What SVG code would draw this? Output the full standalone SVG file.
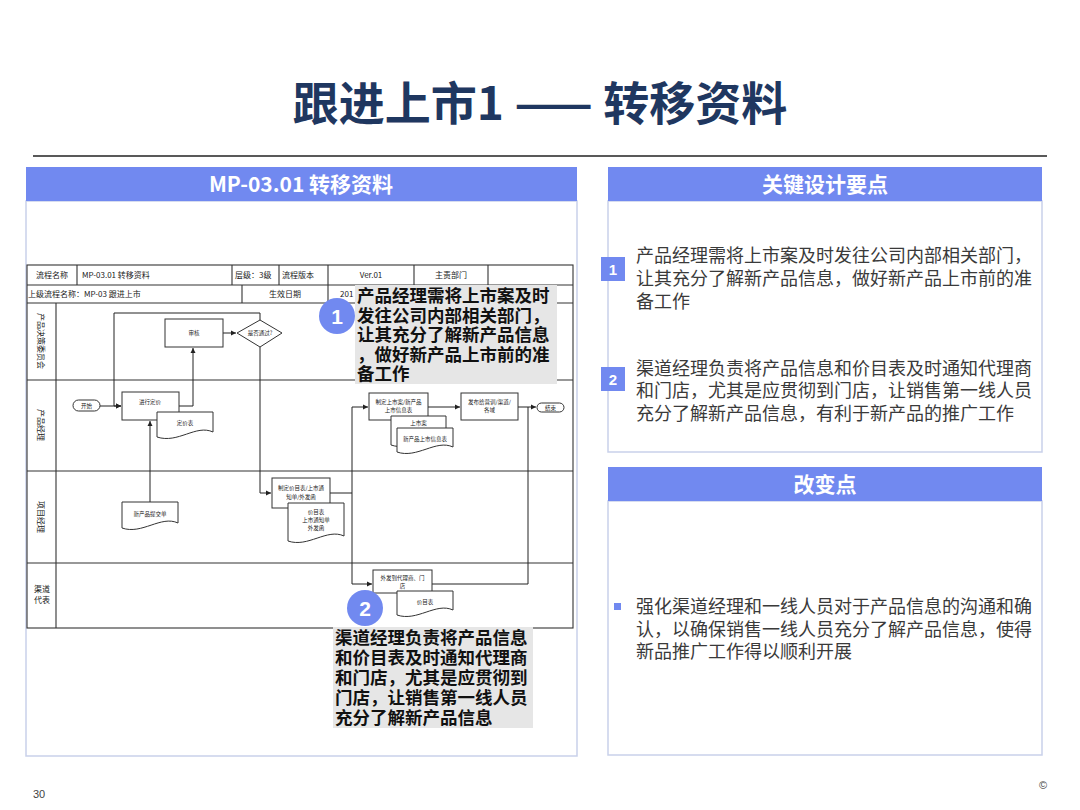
<svg xmlns="http://www.w3.org/2000/svg" width="1080" height="810" viewBox="0 0 1080 810">
<style>
.cjk{font-family:"Noto Sans CJK SC","Liberation Sans",sans-serif}
.hdr{fill:#7189F0}
.hdrt{font-family:"Noto Sans CJK SC",sans-serif;font-size:21px;font-weight:bold;fill:#fff;text-anchor:middle}
.panel{fill:#fff;stroke:#c9d1ea;stroke-width:1.5}
.body{font-family:"Noto Sans CJK SC",sans-serif;font-size:18px;fill:#3a3a3a}
.num{fill:#7189F0}
.numt{font-family:"Liberation Sans",sans-serif;font-size:15px;font-weight:bold;fill:#fff;text-anchor:middle}
.grid{stroke:#333;stroke-width:1.1;fill:none}
.tt{font-family:"Noto Sans CJK SC",sans-serif;font-size:8px;fill:#222}
.sh{fill:#fff;stroke:#333;stroke-width:1}
.st{font-family:"Noto Sans CJK SC",sans-serif;font-size:5.5px;fill:#222;text-anchor:middle}
.conn path{stroke:#222;stroke-width:1;fill:none}
.co{fill:#e6e6e6}
.cot{font-family:"Noto Sans CJK SC",sans-serif;font-size:17.5px;font-weight:bold;fill:#111}
.circ{fill:#7189F0}
.circt{font-family:"Liberation Sans",sans-serif;font-size:21px;font-weight:bold;fill:#fff;text-anchor:middle}
</style>
<defs>
<marker id="ah" markerWidth="6" markerHeight="6" refX="5" refY="3" orient="auto" markerUnits="userSpaceOnUse">
<path d="M0,0.5 L5,3 L0,5.5 Z" fill="#222"/>
</marker>
</defs>
<rect width="1080" height="810" fill="#fff"/>

<g id="title">
<text x="540" y="120" text-anchor="middle" font-family="Noto Sans CJK SC, sans-serif" font-size="46" font-weight="bold" fill="#1f3760">跟进上市1 —— 转移资料</text>
<line x1="33" y1="156" x2="1047" y2="156" stroke="#222" stroke-width="1.5"/>
</g>

<g id="left-panel">
<rect class="panel" x="26" y="201" width="551" height="555"/>
<rect class="hdr" x="26" y="167" width="551" height="34"/>
<text class="hdrt" x="301" y="191.5">MP-03.01 转移资料</text>
</g>

<g id="flow-table">
<rect class="grid" x="27" y="265" width="546" height="363"/>
<path class="grid" d="M27,285 H573 M27,303 H573 M77,265 V285 M232,265 V285 M279,265 V285 M328,265 V303 M414,265 V285 M488,265 V285 M242,285 V303 M56,303 V628 M27,380 H573 M27,471 H573 M27,563 H573"/>
<text class="tt" x="52" y="278" text-anchor="middle">流程名称</text>
<text class="tt" x="82" y="278">MP-03.01 转移资料</text>
<text class="tt" x="235" y="278">层级：3级</text>
<text class="tt" x="282" y="278">流程版本</text>
<text class="tt" x="371" y="278" text-anchor="middle">Ver.01</text>
<text class="tt" x="451" y="278" text-anchor="middle">主责部门</text>
<text class="tt" x="28" y="297">上级流程名称：MP-03 跟进上市</text>
<text class="tt" x="285" y="297" text-anchor="middle">生效日期</text>
<text class="tt" x="340" y="297">201</text>
<text class="tt" font-size="7" transform="translate(38,341) rotate(90)" text-anchor="middle">产品决策委员会</text>
<text class="tt" font-size="7" transform="translate(38,425) rotate(90)" text-anchor="middle">产品经理</text>
<text class="tt" font-size="7" transform="translate(38,517) rotate(90)" text-anchor="middle">项目经理</text>
<text class="tt" font-size="7" x="42" y="592" text-anchor="middle">渠道</text>
<text class="tt" font-size="7" x="42" y="603" text-anchor="middle">代表</text>
</g>

<g id="connectors" class="conn">
<path d="M100,406 H121" marker-end="url(#ah)"/>
<path d="M260,320 V313 H114 V406 H121" marker-end="url(#ah)"/>
<path d="M179,406 H193 V348" marker-end="url(#ah)"/>
<path d="M150,502 V421" marker-end="url(#ah)"/>
<path d="M223,333 H236" marker-end="url(#ah)"/>
<path d="M260,347 V493 H271" marker-end="url(#ah)"/>
<path d="M330,493 H352 V407 H368" marker-end="url(#ah)"/>
<path d="M352,493 V584 H372" marker-end="url(#ah)"/>
<path d="M428,407 H460" marker-end="url(#ah)"/>
<path d="M518,407 H536" marker-end="url(#ah)"/>
<path d="M432,584 H528 V407"/>
</g>

<g id="n-start"><rect class="sh" x="73" y="400" width="27" height="11" rx="5.5"/><text class="st" x="86.5" y="407.5">开始</text></g>
<g id="n-pricing"><rect class="sh" x="122" y="392" width="57" height="28"/><text class="st" x="150" y="404">进行定价</text></g>
<g id="n-pricesheet"><path class="sh" d="M157,412 H213 V432 C196,424 178,444 157,437 Z"/><text class="st" x="185" y="425">定价表</text></g>
<g id="n-review"><rect class="sh" x="165" y="319" width="58" height="28"/><text class="st" x="194" y="335">审核</text></g>
<g id="n-decision"><path class="sh" d="M260,320 L282,333 L260,347 L237,333 Z"/><text class="st" x="260" y="335">是否通过?</text></g>
<g id="n-submit"><path class="sh" d="M122,502 H178 V523 C161,515 142,535 122,528 Z"/><text class="st" x="150" y="516">新产品提交单</text></g>
<g id="n-pricelist-task"><rect class="sh" x="272" y="478" width="58" height="30"/><text class="st" x="301" y="490">制定价目表/上市通</text><text class="st" x="301" y="499">知单/外发函</text></g>
<g id="n-pricelist-doc"><path class="sh" d="M288,503 H344 V536 C327,528 308,548 288,541 Z"/><text class="st" x="316" y="514">价目表</text><text class="st" x="316" y="522">上市通知单</text><text class="st" x="316" y="530">外发函</text></g>
<g id="n-launchplan"><rect class="sh" x="369" y="393" width="59" height="27"/><text class="st" x="398.5" y="404">制定上市案/新产品</text><text class="st" x="398.5" y="412">上市信息表</text></g>
<g id="n-launchdoc"><path class="sh" d="M391,416 H446 V440 C429,432 411,452 391,445 Z"/><text class="st" x="418.5" y="425">上市案</text></g>
<g id="n-infosheet"><path class="sh" d="M397,428 H453 V447 C436,439 417,459 397,452 Z"/><text class="st" x="425" y="441">新产品上市信息表</text></g>
<g id="n-publish"><rect class="sh" x="461" y="393" width="57" height="27"/><text class="st" x="489.5" y="404">发布给营训/渠道/</text><text class="st" x="489.5" y="412">各域</text></g>
<g id="n-end"><rect class="sh" x="537" y="403" width="27" height="9" rx="4.5"/><text class="st" x="550.5" y="409.5">结束</text></g>
<g id="n-dispatch"><rect class="sh" x="373" y="570" width="59" height="23"/><text class="st" x="402.5" y="580">外发到代理商、门</text><text class="st" x="402.5" y="588">店</text></g>
<g id="n-pricelist2"><path class="sh" d="M397,591 H453 V610 C436,602 417,622 397,615 Z"/><text class="st" x="425" y="604">价目表</text></g>

<g id="callout-1">
<rect class="co" x="355" y="285" width="202" height="99"/>
<circle class="circ" cx="337" cy="316" r="18"/>
<text class="circt" x="337" y="324">1</text>
<text class="cot" x="357" y="302">产品经理需将上市案及时</text>
<text class="cot" x="357" y="322">发往公司内部相关部门，</text>
<text class="cot" x="357" y="341">让其充分了解新产品信息</text>
<text class="cot" x="357" y="361">，做好新产品上市前的准</text>
<text class="cot" x="357" y="380">备工作</text>
</g>

<g id="callout-2">
<rect class="co" x="333" y="627" width="200" height="101"/>
<circle class="circ" cx="365" cy="608" r="18"/>
<text class="circt" x="365" y="616">2</text>
<text class="cot" x="335" y="644">渠道经理负责将产品信息</text>
<text class="cot" x="335" y="664">和价目表及时通知代理商</text>
<text class="cot" x="335" y="684">和门店，尤其是应贯彻到</text>
<text class="cot" x="335" y="704">门店，让销售第一线人员</text>
<text class="cot" x="335" y="724">充分了解新产品信息</text>
</g>

<g id="key-points">
<rect class="panel" x="608" y="201" width="434" height="251"/>
<rect class="hdr" x="608" y="167" width="434" height="34"/>
<text class="hdrt" x="825" y="191.5">关键设计要点</text>
<rect class="num" x="601" y="257" width="24" height="24"/>
<text class="numt" x="613" y="274.5">1</text>
<text class="body" x="636" y="262">产品经理需将上市案及时发往公司内部相关部门，</text>
<text class="body" x="636" y="285">让其充分了解新产品信息，做好新产品上市前的准</text>
<text class="body" x="636" y="308">备工作</text>
<rect class="num" x="601" y="367" width="24" height="24"/>
<text class="numt" x="613" y="384.5">2</text>
<text class="body" x="636" y="375">渠道经理负责将产品信息和价目表及时通知代理商</text>
<text class="body" x="636" y="397">和门店，尤其是应贯彻到门店，让销售第一线人员</text>
<text class="body" x="636" y="420">充分了解新产品信息，有利于新产品的推广工作</text>
</g>

<g id="changes">
<rect class="panel" x="608" y="501" width="434" height="254"/>
<rect class="hdr" x="608" y="467" width="434" height="34"/>
<text class="hdrt" x="825" y="491.5">改变点</text>
<rect class="num" x="614" y="603" width="7" height="7"/>
<text class="body" x="636" y="613">强化渠道经理和一线人员对于产品信息的沟通和确</text>
<text class="body" x="636" y="636">认，以确保销售一线人员充分了解产品信息，使得</text>
<text class="body" x="636" y="658">新品推广工作得以顺利开展</text>
</g>

<g id="footer">
<text x="33" y="798" font-family="Liberation Sans, sans-serif" font-size="11" fill="#444">30</text>
<text x="1043" y="789" font-family="Liberation Sans, sans-serif" font-size="11" fill="#444" text-anchor="middle">©</text>
</g>
</svg>
